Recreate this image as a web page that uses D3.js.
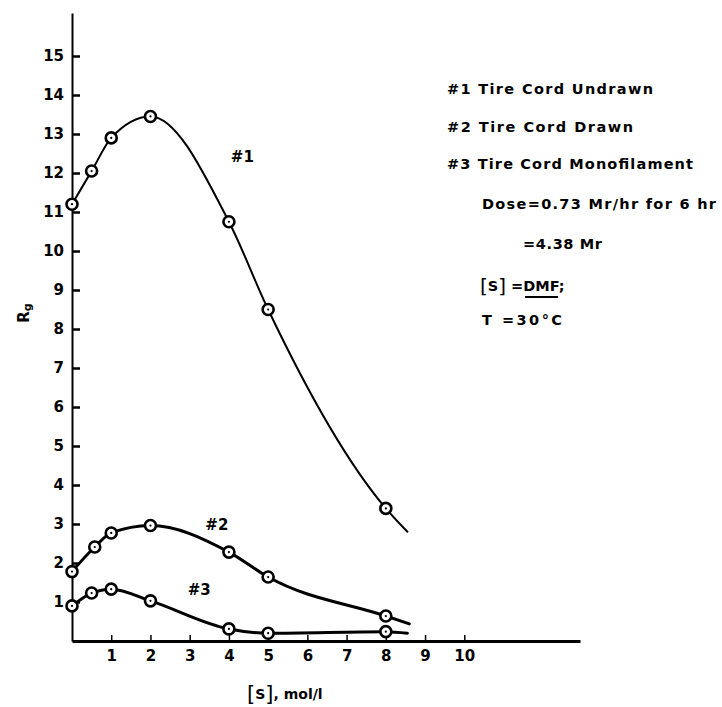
<!DOCTYPE html>
<html>
<head>
<meta charset="utf-8">
<script src="https://cdn.jsdelivr.net/npm/d3@7"></script>
<style>
  html, body { margin: 0; padding: 0; background: #fff; }
  svg { display: block; }
  text { font-family: "DejaVu Sans", "Liberation Sans", sans-serif; fill: #000; }
</style>
</head>
<body>
<svg id="chart" width="722" height="707"></svg>
<script>
// ---- data ----
const xTicks = [1, 2, 3, 4, 5, 6, 7, 8, 9, 10];
const yTicks = [1, 2, 3, 4, 5, 6, 7, 8, 9, 10, 11, 12, 13, 14, 15];

const s1 = [0, 0.5, 1, 2, 4, 5, 8];
const rg1 = [11.2, 12.05, 12.9, 13.45, 10.75, 8.5, 3.4];
const s2 = [0, 0.58, 1, 2, 4, 5, 8];
const rg2 = [1.78, 2.41, 2.77, 2.96, 2.28, 1.64, 0.64];
const s3 = [0, 0.5, 1, 2, 4, 5, 8];
const rg3 = [0.9, 1.23, 1.33, 1.03, 0.31, 0.2, 0.24];

// where each drawn trend curve ends beyond the last point
const tailS = [8.55, 8.6, 8.55];
const tailRg = [2.8, 0.44, 0.2];

const seriesLabels = ["#1", "#2", "#3"];
const seriesLabelAt = [[4.05, 12.4], [3.4, 2.95], [2.95, 1.3]];

const legendLines = [
  "#1 Tire Cord Undrawn",
  "#2 Tire Cord Drawn",
  "#3 Tire Cord Monofilament",
  "Dose=0.73 Mr/hr for 6 hr",
  "=4.38 Mr",
  "T =30°C"
];

// ---- layout ----
const svg = d3.select("#chart");
const x = d3.scaleLinear().domain([0, 12.95]).range([72, 580]);
const y = d3.scaleLinear().domain([0, 16.1]).range([641, 13.1]);

// axes
const yAxis = d3.axisLeft(y).tickValues(yTicks).tickSizeInner(-8).tickSizeOuter(0).tickPadding(8).tickFormat(d3.format("d"));
const gy = svg.append("g").attr("transform", `translate(${x(0)},0)`).call(yAxis);
gy.select(".domain").attr("stroke", "#000").attr("stroke-width", 2);
gy.selectAll(".tick line").attr("stroke", "#000").attr("stroke-width", 2.5);
gy.selectAll(".tick text").attr("font-size", 15).attr("font-weight", "bold");

const xAxis = d3.axisBottom(x).tickValues(xTicks).tickSizeInner(-6).tickSizeOuter(0).tickPadding(9).tickFormat(d3.format("d"));
const gx = svg.append("g").attr("transform", `translate(0,${y(0)})`).call(xAxis);
gx.select(".domain").attr("stroke", "#000").attr("stroke-width", 3);
gx.selectAll(".tick line").attr("stroke", "#000").attr("stroke-width", 1.5);
gx.selectAll(".tick text").attr("font-size", 15).attr("font-weight", "bold");

// curves
const series = [
  { s: s1, rg: rg1, w: 2 },
  { s: s2, rg: rg2, w: 3 },
  { s: s3, rg: rg3, w: 3 }
];
const line = d3.line().x(d => x(d[0])).y(d => y(d[1])).curve(d3.curveMonotoneX);

series.forEach((ser, i) => {
  const pts = ser.s.map((v, j) => [v, ser.rg[j]]);
  pts.push([tailS[i], tailRg[i]]);
  svg.append("path").datum(pts)
    .attr("d", line).attr("fill", "none").attr("stroke", "#000")
    .attr("stroke-width", ser.w).attr("stroke-linecap", "round");
});

// markers
series.forEach(ser => {
  const pts = ser.s.map((v, j) => [v, ser.rg[j]]);
  const g = svg.append("g");
  g.selectAll("circle.m").data(pts).join("circle")
    .attr("cx", d => x(d[0])).attr("cy", d => y(d[1])).attr("r", 5.5)
    .attr("fill", "#fff").attr("stroke", "#000").attr("stroke-width", 2.6);
  g.selectAll("circle.c").data(pts).join("circle")
    .attr("cx", d => x(d[0])).attr("cy", d => y(d[1])).attr("r", 1.1)
    .attr("fill", "#000");
});

// series labels
seriesLabels.forEach((t, i) => {
  svg.append("text").attr("x", x(seriesLabelAt[i][0])).attr("y", y(seriesLabelAt[i][1]))
    .attr("font-size", 15).attr("font-weight", "bold").attr("dominant-baseline", "middle").text(t);
});

// legend / annotation text
const legendPos = [[447, 90, 206], [447, 128, 186], [447, 165, 246], [482, 205, 234], [523, 245, 79], [482, 321, 80]];
legendLines.forEach((t, i) => {
  const [lx, ly, lw] = legendPos[i];
  svg.append("text").attr("x", lx).attr("y", ly).attr("dominant-baseline", "middle")
    .attr("font-size", 14.5).attr("font-weight", "bold")
    .attr("textLength", lw).attr("lengthAdjust", "spacing")
    .text(t);
});

// [S] = DMF;
const sLine = svg.append("text").attr("x", 480).attr("y", 287).attr("dominant-baseline", "middle")
  .attr("font-size", 14.5).attr("font-weight", "bold");
sLine.append("tspan").attr("font-size", 20).attr("font-weight", "normal").text("[");
sLine.append("tspan").text("S");
sLine.append("tspan").attr("font-size", 20).attr("font-weight", "normal").text("]");
sLine.append("tspan").attr("dx", 5).text("=");
sLine.append("tspan").text("DMF");
sLine.append("tspan").text(";");
svg.append("line").attr("x1", 525).attr("x2", 558).attr("y1", 297).attr("y2", 297)
  .attr("stroke", "#000").attr("stroke-width", 2);

// x axis title
const xt = svg.append("text").attr("x", 247).attr("y", 695).attr("dominant-baseline", "middle")
  .attr("font-size", 14).attr("font-weight", "bold");
xt.append("tspan").attr("font-size", 21).attr("font-weight", "normal").text("[");
xt.append("tspan").text("S");
xt.append("tspan").attr("font-size", 21).attr("font-weight", "normal").text("]");
xt.append("tspan").text(", mol/l");

// y axis title
const yt = svg.append("text").attr("transform", "translate(24,313) rotate(-90)")
  .attr("text-anchor", "middle").attr("dominant-baseline", "middle")
  .attr("font-size", 15).attr("font-weight", "bold");
yt.append("tspan").text("R");
yt.append("tspan").attr("font-size", 11).attr("dy", 4).text("g");
</script>
</body>
</html>
